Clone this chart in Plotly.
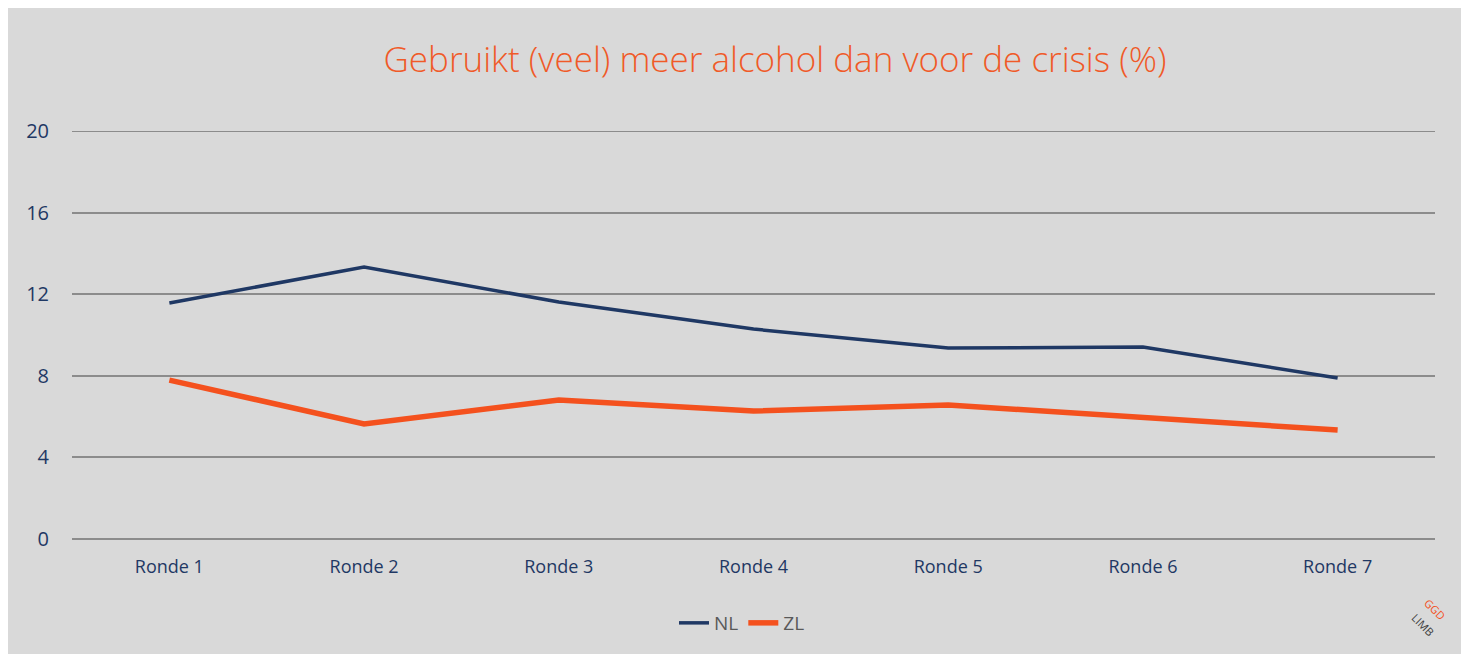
import plotly.graph_objects as go

rondes = ["Ronde 1", "Ronde 2", "Ronde 3", "Ronde 4", "Ronde 5", "Ronde 6", "Ronde 7"]
nl_values = [11.57, 13.33, 11.62, 10.29, 9.36, 9.41, 7.89]
zl_values = [7.79, 5.64, 6.81, 6.27, 6.57, 5.93, 5.34]
y_ticks = [0, 4, 8, 12, 16, 20]

# page is offset by the 8px body margin
OFF = 8
W, H = 1465 - OFF, 654 - OFF
L, R, T, B = 72 - OFF, W - (1435 - OFF), 131 - OFF, H - (539 - OFF)
pw, ph = W - L - R, H - T - B


def px_x(px):
    return (px - OFF - L) / pw


def px_y(py):
    return (H - B - (py - OFF)) / ph


fig = go.Figure()
fig.add_trace(go.Scatter(x=rondes, y=nl_values, name="NL", mode="lines",
                         line=dict(color="#1f3864", width=3.5)))
fig.add_trace(go.Scatter(x=rondes, y=zl_values, name="ZL", mode="lines",
                         line=dict(color="#f4511e", width=5.5)))

fig.update_layout(
    width=W, height=H,
    margin=dict(l=L, r=R, t=T, b=B),
    paper_bgcolor="#d9d9d9",
    plot_bgcolor="#d9d9d9",
    title=dict(text="Gebruikt (veel) meer alcohol dan voor de crisis (%)",
               x=(775 - OFF) / W, xanchor="center", y=1 - (60 - OFF) / H, yanchor="middle",
               font=dict(family="Open Sans", size=35, color="#f05a28", weight=300)),
    showlegend=True,
    legend=dict(orientation="h", x=px_x(742), xanchor="center", y=px_y(623), yanchor="middle",
                font=dict(family="Open Sans", size=19, color="#595959"),
                bgcolor="rgba(0,0,0,0)"),
    xaxis=dict(type="category", range=[-0.5, 6.5], showgrid=False, showline=False,
               zeroline=False, ticks="", ticklabelstandoff=15,
               tickfont=dict(family="Open Sans", size=18, color="#1f3864")),
    yaxis=dict(range=[0, 20], tickvals=y_ticks, showgrid=True, gridcolor="#8c8c8c",
               gridwidth=2, zeroline=True, zerolinecolor="#8c8c8c", zerolinewidth=2,
               showline=False, ticks="", ticklabelstandoff=22,
               tickfont=dict(family="Open Sans", size=20, color="#1f3864")),
    shapes=[dict(type="line", xref="paper", yref="y", x0=0, x1=1, y0=y_ticks[-1], y1=y_ticks[-1],
                 layer="below", line=dict(color="#8c8c8c", width=2))],
    annotations=[
        dict(text="GGD", xref="paper", yref="paper", x=px_x(1452), y=px_y(626),
             showarrow=False, textangle=45, font=dict(family="Open Sans", size=11, color="#f4511e")),
        dict(text="LIMB", xref="paper", yref="paper", x=px_x(1440), y=px_y(642),
             showarrow=False, textangle=45, font=dict(family="Open Sans", size=11, color="#404040")),
    ],
)

fig.write_html("out.html")
